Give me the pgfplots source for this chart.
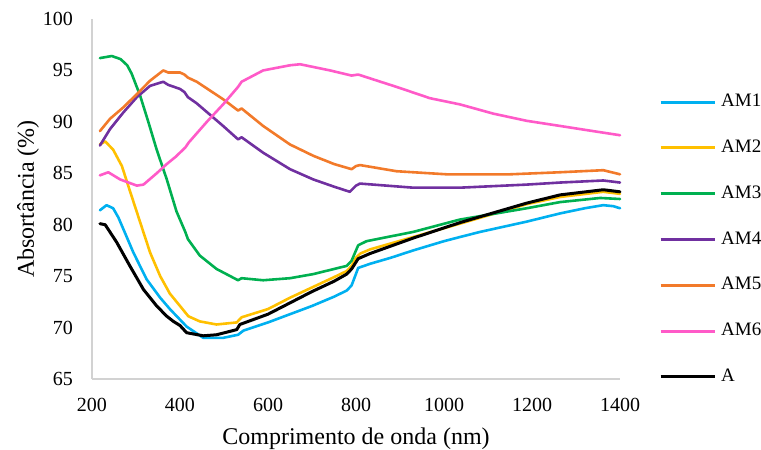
\documentclass[border=0pt]{standalone}
\usepackage{fontspec}
\setmainfont{Liberation Serif}
\usepackage{pgfplots}
\pgfplotsset{compat=1.18}
\definecolor{cAMone}{RGB}{0,176,240}
\definecolor{cAMtwo}{RGB}{255,192,0}
\definecolor{cAMthree}{RGB}{0,176,80}
\definecolor{cAMfour}{RGB}{112,48,160}
\definecolor{cAMfive}{RGB}{242,122,42}
\definecolor{cAMsix}{RGB}{255,90,200}
\definecolor{axgray}{RGB}{210,210,210}
\begin{document}
\begin{tikzpicture}[x=1pt,y=1pt]
\path[use as bounding box] (0,0) rectangle (761,450);
\begin{axis}[
  at={(92pt,71pt)}, anchor=south west,
  width=528pt, height=360pt, scale only axis,
  xmin=200, xmax=1400, ymin=65, ymax=100,
  axis lines=left,
  axis line style={draw=axgray, line width=1.5pt, -},
  xtick={200,400,...,1400}, ytick={65,70,...,100},
  major tick length=0pt,
  /pgf/number format/assume math mode=true,
  /pgf/number format/1000 sep={},
  tick label style={font=\fontsize{20}{24}\selectfont},
  xticklabel style={inner sep=0pt, anchor=north, yshift=-19pt},
  yticklabel style={inner sep=0pt, anchor=east, xshift=-19pt},
  label style={font=\fontsize{24}{28}\selectfont},
  xlabel={Comprimento de onda (nm)},
  ylabel={Absortância (\%)},
  xlabel style={at={(axis description cs:0.5,-0.1833)}, anchor=base, inner sep=0pt},
  ylabel style={at={(axis description cs:-0.1212,0.5)}, anchor=center, inner sep=0pt},
  legend style={at={(axis description cs:1.0739,0.796)}, anchor=north west,
    draw=none, fill=none, inner sep=0pt, font=\fontsize{19}{22}\selectfont,
    nodes={inner sep=0pt, text height=14pt, text depth=5pt},
    row sep=26.8pt, column sep=5pt},
  legend cell align=left,
  legend image code/.code={\draw[#1, line width=3pt, line cap=butt] (0pt,0pt) -- (54pt,0pt);},
  every axis plot/.append style={line width=2.6pt, line join=round, line cap=round},
  clip=false,
]
\addplot[cAMone] coordinates {
(218,81.4) (233,81.9) (248,81.6) (260,80.7) (271,79.6) (294,77.3) (324,74.7) (355,72.9) (377,71.8) (415,70.1) (453,69.0) (498,69.0) (532,69.3) (544,69.7) (600,70.5) (650,71.3) (700,72.1) (750,73.0) (779,73.6) (790,74.1) (798,75.0) (805,75.8) (832,76.2) (880,76.8) (930,77.5) (1000,78.4) (1036,78.8) (1082,79.3) (1188,80.3) (1264,81.1) (1320,81.6) (1362,81.9) (1385,81.8) (1400,81.6)};
\addlegendentry{AM1}
\addplot[cAMtwo] coordinates {
(218,87.8) (230,88.1) (248,87.3) (268,85.7) (283,83.7) (309,80.3) (332,77.3) (355,75.0) (377,73.3) (400,72.1) (419,71.1) (445,70.6) (483,70.3) (529,70.5) (540,71.0) (600,71.8) (650,72.9) (700,73.9) (750,74.9) (779,75.5) (790,76.0) (800,76.8) (810,77.2) (832,77.6) (930,78.8) (1036,80.1) (1188,82.0) (1264,82.7) (1362,83.2) (1400,83.0)};
\addlegendentry{AM2}
\addplot[cAMthree] coordinates {
(218,96.2) (245,96.4) (265,96.1) (280,95.5) (290,94.7) (309,92.6) (328,90.0) (347,87.3) (370,84.4) (392,81.3) (412,79.3) (418,78.6) (445,77.0) (483,75.7) (532,74.6) (540,74.8) (589,74.6) (650,74.8) (703,75.2) (779,76.0) (790,76.5) (805,78.0) (824,78.4) (930,79.3) (1036,80.5) (1188,81.6) (1264,82.2) (1355,82.6) (1400,82.5)};
\addlegendentry{AM3}
\addplot[cAMfour] coordinates {
(218,87.7) (241,89.3) (271,90.9) (302,92.4) (332,93.5) (362,93.9) (373,93.6) (400,93.2) (410,92.9) (418,92.4) (438,91.8) (498,89.6) (532,88.3) (540,88.5) (589,87.0) (650,85.4) (703,84.4) (750,83.7) (786,83.2) (800,83.8) (809,84.0) (930,83.6) (1036,83.6) (1188,83.9) (1264,84.1) (1362,84.3) (1400,84.1)};
\addlegendentry{AM4}
\addplot[cAMfive] coordinates {
(218,89.1) (241,90.3) (271,91.4) (302,92.7) (332,94.0) (362,95.0) (373,94.8) (400,94.8) (410,94.6) (418,94.3) (438,93.9) (498,92.2) (532,91.1) (540,91.3) (589,89.6) (650,87.8) (703,86.7) (750,85.9) (790,85.4) (800,85.7) (809,85.8) (892,85.2) (1006,84.9) (1150,84.9) (1264,85.1) (1362,85.3) (1400,84.9)};
\addlegendentry{AM5}
\addplot[cAMsix] coordinates {
(218,84.8) (237,85.1) (264,84.4) (302,83.8) (317,83.9) (347,85.0) (370,85.9) (390,86.6) (412,87.5) (420,88.0) (461,90.0) (498,91.7) (532,93.4) (540,93.9) (589,95.0) (650,95.5) (673,95.6) (741,95.0) (790,94.5) (805,94.6) (892,93.4) (968,92.3) (1036,91.7) (1112,90.8) (1188,90.1) (1264,89.6) (1339,89.1) (1400,88.7)};
\addlegendentry{AM6}
\addplot[black, line width=3pt] coordinates {
(218,80.1) (230,80.0) (256,78.3) (286,76.0) (317,73.7) (347,72.1) (370,71.1) (385,70.6) (400,70.2) (415,69.5) (453,69.2) (483,69.3) (529,69.8) (536,70.3) (600,71.3) (650,72.4) (700,73.5) (750,74.5) (779,75.2) (790,75.7) (805,76.7) (832,77.2) (930,78.7) (1036,80.2) (1188,82.1) (1264,82.9) (1362,83.4) (1400,83.2)};
\addlegendentry{A}
\end{axis}
\end{tikzpicture}
\end{document}
